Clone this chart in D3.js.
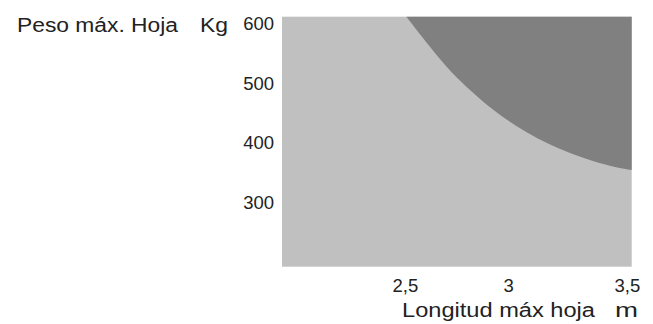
<!doctype html>
<html lang="es">
<head>
<meta charset="utf-8">
<title>Peso máx. hoja vs longitud</title>
<script src="https://d3js.org/d3.v7.min.js"></script>
<style>
  body { margin: 0; background: #fff; }
  svg text { font-family: "Liberation Sans", Arial, Helvetica, sans-serif; fill: #222; }
  .tick text { font-size: 18.5px; }
  .ttl { font-size: 20px; }
</style>
</head>
<body>
<svg id="chart" width="653" height="324"></svg>
<script>
// curve: longitud (m) -> peso (kg)
let longitud = [2.56, 2.7, 2.8, 2.9, 3.0, 3.1, 3.2, 3.3, 3.4, 3.5, 3.575];
let peso = [611, 545, 504, 470, 441, 417, 397, 381, 368, 358, 353];

let xTicks = [2.5, 3, 3.5];
let yTicks = [300, 400, 500, 600];

let xDomain = [2, 3.575];
let yDomain = [190, 611];

let svg = d3.select("#chart");

let x = d3.scaleLinear().domain(xDomain).range([282, 631.7]);
let y = d3.scaleLinear().domain(yDomain).range([266.7, 16.7]);

// light background
svg.append("rect")
  .attr("x", x(xDomain[0]))
  .attr("y", y(yDomain[1]))
  .attr("width", x(xDomain[1]) - x(xDomain[0]))
  .attr("height", y(yDomain[0]) - y(yDomain[1]))
  .attr("fill", "#c0c0c0");

let pts = longitud.map((d, i) => [d, peso[i]]);

// dark region above the curve
let area = d3.area()
  .x(d => x(d[0]))
  .y0(y(yDomain[1]))
  .y1(d => y(d[1]))
  .curve(d3.curveNatural);

svg.append("path")
  .datum(pts)
  .attr("d", area)
  .attr("fill", "#808080");

let comma = d => String(d).replace(".", ",");

let yAxis = svg.append("g")
  .attr("transform", "translate(274,0)")
  .call(d3.axisLeft(y).tickValues(yTicks).tickSize(0).tickPadding(0));
yAxis.select(".domain").remove();
yAxis.selectAll("text").attr("dy", "0.36em");

let xAxis = svg.append("g")
  .attr("transform", "translate(0,291.5)")
  .call(d3.axisBottom(x).tickValues(xTicks).tickFormat(comma).tickSize(0).tickPadding(0));
xAxis.select(".domain").remove();
xAxis.selectAll("text")
  .attr("dy", 0)
  .attr("text-anchor", "start")
  .attr("dx", -1);

// titles, stretched to the widths seen in the picture
function title(txt, tx, ty, len) {
  svg.append("text").attr("class", "ttl")
    .attr("x", tx).attr("y", ty)
    .attr("textLength", len)
    .attr("lengthAdjust", "spacingAndGlyphs")
    .text(txt);
}
title("Peso máx. Hoja", 17, 32, 161);
title("Kg", 200, 32, 28);
title("Longitud máx hoja", 402, 317, 193);
title("m", 615, 317, 23);
</script>
</body>
</html>
